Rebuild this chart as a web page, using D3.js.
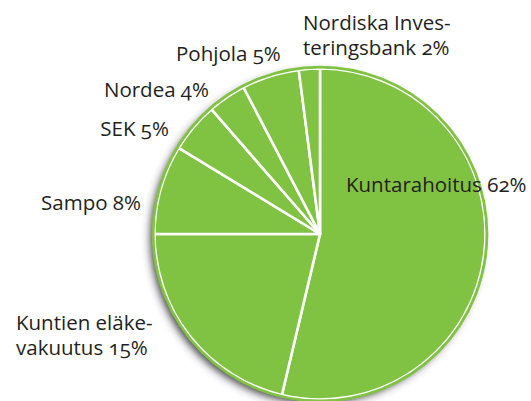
<!DOCTYPE html>
<html lang="fi">
<head>
    <meta charset="UTF-8">
    <script src="https://d3js.org/d3.v7.min.js"></script>
    <style>
        body {margin: 0; background-color: #ffffff}
        svg {display: block}
        text {font-family: "Open Sans", "Noto Sans", sans-serif; font-size: 20.5px; fill: #231f20; font-feature-settings: "onum";}
    </style>
</head>
<body>
<svg class="pie_chart"></svg>
<script type="text/javascript">
    // slices clockwise from 12 o'clock, share of the circle as drawn (%)
    let names = ['Kuntarahoitus', 'Kuntien eläkevakuutus', 'Sampo', 'SEK', 'Nordea', 'Pohjola', 'Nordiska Investeringsbank'];
    let shares = [53.7, 21.3, 8.7, 4.9, 3.75, 5.6, 2.05];
    // label text as printed, one entry per line
    let label_lines = [
        ['Kuntarahoitus 62%'],
        ['Kuntien eläke-', 'vakuutus 15%'],
        ['Sampo 8%'],
        ['SEK 5%'],
        ['Nordea 4%'],
        ['Pohjola 5%'],
        ['Nordiska Inves-', 'teringsbank 2%']
    ];

    let width = 531;
    let height = 401;
    let cx = 320;
    let cy = 234;
    let radius = 165.5;

    // where each label sits: [x, y of first baseline, anchor]
    let label_layout = {
        'Kuntarahoitus': [346, 192, 'start'],
        'Kuntien eläkevakuutus': [16, 330, 'start'],
        'Sampo': [141, 210, 'end'],
        'SEK': [169, 136, 'end'],
        'Nordea': [209, 97, 'end'],
        'Pohjola': [176, 61, 'start'],
        'Nordiska Investeringsbank': [303, 30, 'start']
    };
    let line_height = 24.5;

    var svg = d3.select('.pie_chart')
        .attr('width', width)
        .attr('height', height);

    var defs = svg.append('defs');
    var shadow = defs.append('filter').attr('id', 'shadow')
        .attr('x', '-20%').attr('y', '-20%').attr('width', '140%').attr('height', '140%');
    shadow.append('feDropShadow')
        .attr('dx', -4).attr('dy', 4)
        .attr('stdDeviation', 4.5)
        .attr('flood-color', '#2e2e36')
        .attr('flood-opacity', 0.95);

    var data = names.map(function (n, i) {
        return {name: n, value: shares[i], lines: label_lines[i]};
    });

    var pie = d3.pie()
        .sort(null)
        .value(function (d) { return d.value; });

    var arc = d3.arc()
        .innerRadius(0)
        .outerRadius(radius);

    var g = svg.append('g').attr('transform', 'translate(' + cx + ',' + cy + ')');

    // shadow under the whole disc
    g.append('circle')
        .attr('r', radius)
        .attr('fill', '#80c242')
        .attr('filter', 'url(#shadow)');

    g.selectAll('path.slice')
        .data(pie(data))
        .enter()
        .append('path')
        .attr('class', 'slice')
        .attr('d', arc)
        .attr('fill', '#80c242')
        .attr('stroke', '#ffffff')
        .attr('stroke-width', 2.6)
        .attr('stroke-linejoin', 'round');

    // outer rim should not carry the white stroke
    g.append('circle')
        .attr('r', radius + 1.4)
        .attr('fill', 'none')
        .attr('stroke', '#80c242')
        .attr('stroke-width', 2.8);

    data.forEach(function (d) {
        let pos = label_layout[d.name];
        var t = svg.append('text')
            .attr('x', pos[0])
            .attr('y', pos[1])
            .attr('text-anchor', pos[2]);
        d.lines.forEach(function (line, j) {
            t.append('tspan')
                .attr('x', pos[0])
                .attr('y', pos[1] + j * line_height)
                .text(line);
        });
    });
</script>
</body>
</html>
